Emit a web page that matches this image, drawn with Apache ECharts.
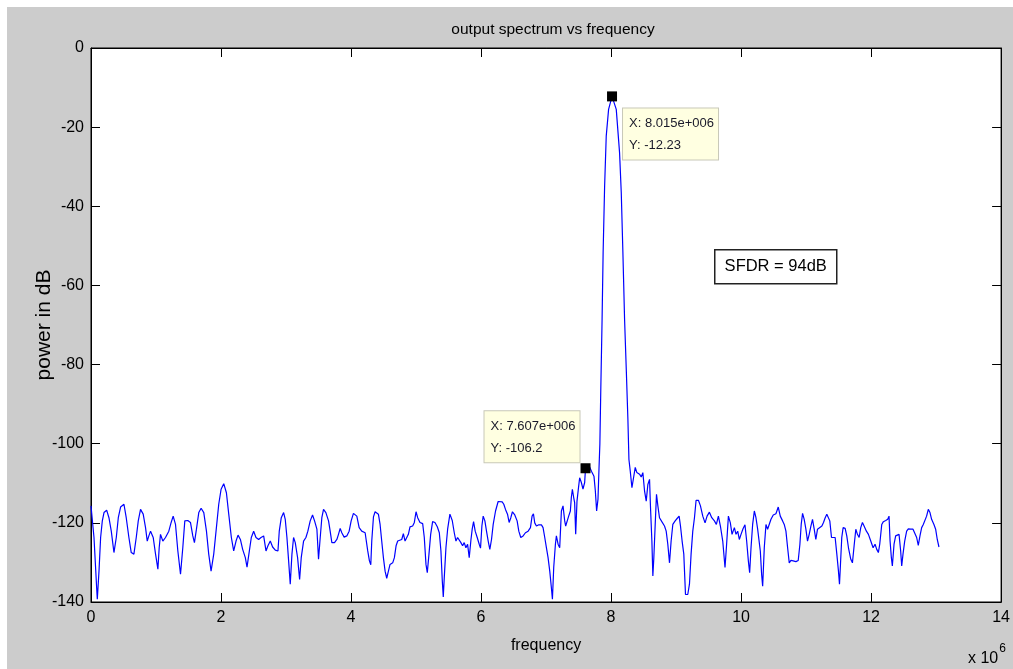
<!DOCTYPE html>
<html>
<head>
<meta charset="utf-8">
<script src="https://cdn.jsdelivr.net/npm/echarts@6/dist/echarts.min.js"></script>
<style>
html,body{margin:0;padding:0;background:#fff;}
#chart{width:1013px;height:669px;}
</style>
</head>
<body>
<div id="chart"></div>
<script>
// frequency in units of 1e6 Hz
var freqMHz = [
0.000,0.046,0.087,0.097,0.123,0.148,0.174,0.200,0.241,0.276,0.312,0.353,0.389,0.420,0.455,0.507,0.542,0.583,0.619,0.660,
0.696,0.727,0.762,0.803,0.839,0.865,0.890,0.916,0.957,0.993,1.029,1.049,1.069,1.105,1.146,1.197,1.233,1.264,1.300,1.336,
1.377,1.412,1.443,1.489,1.530,1.566,1.591,1.622,1.658,1.694,1.735,1.776,1.811,1.847,1.888,1.929,1.965,2.001,2.042,2.083,
2.119,2.159,2.195,2.231,2.262,2.298,2.333,2.374,2.400,2.436,2.466,2.502,2.538,2.579,2.615,2.656,2.692,2.722,2.758,2.794,
2.835,2.876,2.896,2.927,2.963,2.988,3.014,3.040,3.065,3.091,3.116,3.142,3.178,3.209,3.234,3.270,3.306,3.336,3.372,3.408,
3.439,3.475,3.500,3.526,3.551,3.577,3.613,3.654,3.679,3.705,3.746,3.782,3.807,3.833,3.858,3.894,3.935,3.971,4.002,4.037,
4.089,4.125,4.165,4.217,4.257,4.283,4.304,4.319,4.345,4.370,4.400,4.421,4.447,4.472,4.498,4.524,4.549,4.575,4.600,4.641,
4.667,4.693,4.718,4.744,4.780,4.805,4.831,4.856,4.882,4.907,4.948,4.974,5.000,5.025,5.061,5.102,5.127,5.153,5.173,5.199,
5.225,5.255,5.291,5.327,5.358,5.383,5.404,5.419,5.434,5.460,5.486,5.521,5.557,5.588,5.614,5.639,5.665,5.690,5.716,5.741,
5.767,5.793,5.818,5.844,5.864,5.885,5.910,5.941,5.972,5.992,6.013,6.033,6.059,6.084,6.110,6.135,6.161,6.187,6.223,6.263,
6.289,6.325,6.350,6.376,6.407,6.432,6.458,6.483,6.519,6.555,6.581,6.611,6.647,6.683,6.724,6.760,6.785,6.806,6.826,6.852,
6.888,6.929,6.954,6.980,7.006,7.031,7.057,7.082,7.098,7.118,7.144,7.159,7.185,7.210,7.236,7.261,7.287,7.302,7.328,7.348,
7.374,7.389,7.405,7.425,7.440,7.456,7.476,7.502,7.517,7.543,7.568,7.594,7.607,7.660,7.700,7.737,7.758,7.778,7.799,7.815,
7.828,7.843,7.862,7.878,7.901,7.926,7.962,8.015,8.080,8.131,8.157,8.182,8.208,8.234,8.259,8.275,8.295,8.321,8.346,8.372,
8.397,8.413,8.438,8.464,8.489,8.515,8.541,8.566,8.592,8.607,8.628,8.643,8.658,8.679,8.699,8.720,8.745,8.781,8.822,8.848,
8.873,8.899,8.924,8.950,8.986,9.016,9.047,9.068,9.093,9.119,9.145,9.180,9.206,9.231,9.257,9.283,9.308,9.344,9.375,9.411,
9.446,9.477,9.513,9.549,9.590,9.620,9.651,9.682,9.718,9.753,9.774,9.805,9.835,9.861,9.897,9.922,9.948,9.973,9.999,10.030,
10.060,10.086,10.112,10.132,10.153,10.178,10.204,10.229,10.255,10.296,10.316,10.332,10.357,10.383,10.408,10.434,10.460,10.495,10.536,10.572,
10.603,10.639,10.664,10.690,10.716,10.741,10.767,10.802,10.843,10.879,10.905,10.925,10.946,10.971,10.997,11.022,11.048,11.074,11.099,11.125,
11.150,11.176,11.202,11.243,11.268,11.294,11.319,11.345,11.365,11.391,11.417,11.447,11.473,11.498,11.514,11.529,11.549,11.570,11.601,11.626,
11.652,11.688,11.713,11.739,11.765,11.790,11.816,11.841,11.867,11.892,11.928,11.959,11.995,12.031,12.061,12.087,12.112,12.133,12.164,12.189,
12.225,12.256,12.276,12.292,12.312,12.327,12.353,12.378,12.404,12.430,12.455,12.471,12.491,12.517,12.547,12.573,12.609,12.645,12.675,12.701,
12.726,12.752,12.778,12.803,12.829,12.854,12.880,12.906,12.931,12.967,12.993,13.018,13.044
];
var powerDb = [
-115.7,-123.7,-136.4,-139.3,-132.2,-123.7,-119.5,-117.4,-116.8,-118.7,-122.1,-127.5,-123.7,-118.7,-116.0,-115.3,-118.7,-123.7,-127.5,-127.9,
-123.7,-119.5,-116.6,-117.8,-121.2,-124.6,-123.3,-122.1,-123.7,-127.9,-131.7,-126.3,-122.9,-124.6,-123.7,-122.1,-119.9,-118.3,-120.4,-127.1,
-133.0,-126.3,-119.5,-119.4,-119.9,-123.3,-125.0,-121.6,-117.4,-116.3,-117.4,-122.1,-127.9,-132.2,-127.9,-121.2,-115.3,-111.5,-110.1,-112.4,
-117.8,-123.7,-127.1,-124.6,-123.1,-124.2,-126.7,-128.8,-131.2,-127.1,-123.7,-122.1,-123.7,-124.2,-123.7,-123.3,-127.1,-125.8,-124.6,-126.1,
-126.9,-127.1,-122.1,-118.7,-117.4,-119.1,-123.7,-129.6,-135.5,-127.9,-123.7,-125.0,-128.8,-134.3,-128.8,-124.6,-123.7,-122.1,-119.5,-118.0,
-119.5,-121.6,-129.2,-123.7,-118.7,-116.6,-117.4,-119.5,-122.1,-125.0,-125.0,-124.2,-122.9,-121.4,-122.5,-123.6,-123.3,-122.1,-119.5,-117.6,
-118.3,-121.2,-122.1,-122.5,-127.1,-129.6,-130.6,-124.6,-118.5,-117.2,-117.3,-117.8,-120.4,-124.6,-128.8,-132.2,-134.0,-132.2,-130.5,-130.1,
-128.8,-125.8,-124.6,-125.0,-124.2,-122.7,-124.6,-124.8,-122.9,-121.0,-120.8,-119.9,-117.2,-118.7,-119.9,-120.2,-123.7,-130.5,-132.6,-127.9,
-122.9,-119.7,-119.9,-121.0,-122.5,-127.1,-134.7,-138.7,-133.9,-126.3,-121.6,-117.8,-119.4,-122.5,-124.6,-123.7,-123.2,-125.0,-125.8,-125.0,
-126.3,-125.4,-128.8,-124.4,-121.6,-119.7,-122.1,-123.7,-125.4,-126.4,-120.8,-118.3,-119.5,-122.1,-124.6,-126.7,-124.2,-120.4,-117.0,-114.6,
-114.3,-114.7,-115.3,-116.6,-117.8,-119.9,-118.7,-117.2,-118.0,-119.5,-122.1,-123.7,-123.3,-122.5,-122.1,-121.2,-118.3,-117.7,-120.0,-120.8,
-120.5,-120.5,-121.2,-123.7,-126.3,-128.8,-132.2,-136.4,-139.3,-131.3,-125.4,-123.3,-125.4,-126.3,-117.0,-115.7,-119.5,-120.8,-120.4,-118.3,
-117.0,-113.6,-111.5,-113.6,-114.9,-122.9,-114.5,-110.7,-108.6,-109.8,-111.5,-109.8,-106.2,-105.5,-107.0,-108.2,-111.9,-117.0,-114.0,-106.0,
-100.0,-85.4,-68.6,-51.7,-34.9,-22.2,-15.5,-12.23,-15.5,-26.5,-36.6,-51.7,-68.6,-81.2,-93.8,-104.0,-106.9,-111.1,-108.6,-106.0,
-107.3,-107.3,-107.7,-108.4,-107.3,-111.9,-114.5,-110.3,-109.0,-116.2,-124.6,-133.4,-128.8,-120.4,-112.8,-115.7,-118.7,-119.7,-120.8,-122.1,
-125.4,-130.1,-124.6,-120.4,-119.5,-118.9,-118.3,-120.8,-124.6,-127.9,-138.1,-138.1,-135.5,-127.9,-122.1,-118.7,-114.3,-114.3,-115.7,-118.3,
-120.0,-118.3,-117.3,-118.7,-119.5,-120.4,-118.3,-120.8,-124.6,-131.3,-126.3,-118.3,-120.0,-122.9,-121.2,-122.9,-122.1,-124.2,-122.9,-121.5,
-120.5,-124.6,-129.6,-132.6,-126.3,-120.4,-117.0,-118.7,-121.6,-127.1,-133.0,-136.0,-126.3,-120.4,-121.6,-122.1,-119.1,-118.0,-117.7,-116.0,
-118.3,-119.5,-120.4,-122.1,-126.3,-130.1,-129.5,-129.6,-129.8,-129.5,-125.4,-120.4,-117.6,-119.1,-121.6,-124.6,-122.9,-120.8,-119.1,-121.6,
-124.2,-121.6,-121.2,-120.8,-119.9,-118.7,-117.8,-118.0,-119.5,-123.7,-124.2,-123.7,-127.9,-132.2,-135.5,-130.5,-123.7,-121.2,-121.4,-123.3,
-126.3,-129.2,-130.1,-125.8,-121.6,-122.9,-123.7,-121.2,-119.9,-120.8,-122.1,-122.9,-124.6,-126.3,-125.4,-126.7,-127.5,-125.4,-120.4,-119.7,
-119.4,-119.1,-118.3,-124.6,-128.8,-130.9,-125.4,-123.3,-122.9,-122.9,-127.1,-130.9,-127.9,-124.6,-122.1,-121.5,-121.6,-121.6,-121.4,-123.7,
-125.7,-123.3,-121.2,-120.4,-119.9,-118.3,-116.6,-117.4,-119.1,-120.4,-121.6,-124.2,-126.1
];
// data tips
var tipX = [8.015, 7.607];
var tipY = [-12.23, -106.2];
var tipXText = ['8.015e+006', '7.607e+006'];
var tipYText = ['-12.23', '-106.2'];
var annotationText = 'SFDR = 94dB';

var FONT = '"Liberation Sans", Arial, sans-serif';

var seriesData = freqMHz.map(function (f, i) { return [f, powerDb[i]]; });

var chart = echarts.init(document.getElementById('chart'), null, {renderer: 'canvas'});

function axisCommon(showLabel, margin) {
  return {
    axisLine: {show: true, onZero: false, lineStyle: {color: '#000', width: 1}},
    axisTick: {show: true, inside: true, length: 9, lineStyle: {color: '#000', width: 1}},
    axisLabel: {show: showLabel, color: '#000', fontSize: 16, fontFamily: FONT, margin: margin},
    splitLine: {show: false}
  };
}

var option = {
  backgroundColor: '#ffffff',
  animation: false,
  title: {
    text: 'output spectrum vs frequency',
    left: 548, top: 17, textAlign: 'center',
    textStyle: {fontSize: 15.5, fontWeight: 'normal', color: '#000', fontFamily: FONT}
  },
  grid: {left: 91, top: 48, width: 915, height: 554, show: true, backgroundColor: '#fff', borderColor: '#000', borderWidth: 1},
  xAxis: [
    Object.assign({type: 'value', min: 0, max: 14, interval: 2, position: 'bottom',
      name: 'frequency', nameLocation: 'middle', nameGap: 36, nameMoveOverlap: false,
      nameTextStyle: {fontSize: 16, color: '#000', fontFamily: FONT}}, axisCommon(true, 8)),
    Object.assign({type: 'value', min: 0, max: 14, interval: 2, position: 'top'}, axisCommon(false, 8))
  ],
  yAxis: [
    Object.assign({type: 'value', min: -140, max: 0, interval: 20, position: 'left',
      name: 'power in dB', nameLocation: 'middle', nameGap: 36, nameRotate: 90, nameMoveOverlap: false,
      nameTextStyle: {fontSize: 21, color: '#000', fontFamily: FONT}}, axisCommon(true, 7)),
    Object.assign({type: 'value', min: -140, max: 0, interval: 20, position: 'right'}, axisCommon(false, 7))
  ],
  series: [{
    type: 'line',
    xAxisIndex: 0, yAxisIndex: 0,
    data: seriesData,
    showSymbol: false,
    symbol: 'none',
    lineStyle: {color: '#0000ff', width: 1.2},
    markPoint: {
      symbol: 'rect',
      symbolSize: 10,
      itemStyle: {color: '#000'},
      data: [
        {coord: [tipX[0], tipY[0]],
         label: {show: true, position: [16, 17], align: 'left', verticalAlign: 'top',
           formatter: 'X: ' + tipXText[0] + '\nY: ' + tipYText[0]}},
        {coord: [tipX[1], tipY[1]],
         label: {show: true, position: [-96, -1], align: 'left', verticalAlign: 'bottom',
           formatter: 'X: ' + tipXText[1] + '\nY: ' + tipYText[1]}}
      ],
      label: {
        color: '#1a1a2a', fontSize: 13, fontFamily: FONT, lineHeight: 22,
        width: 84, overflow: 'none',
        backgroundColor: '#ffffe1', borderColor: '#c8c8b8', borderWidth: 1,
        padding: [4, 5, 3, 6]
      }
    }
  }],
  graphic: [
    {type: 'rect', left: 7, top: 7, z: -100, silent: true,
     shape: {width: 1006, height: 662}, style: {fill: '#cccccc'}},
    {type: 'group', left: 714, top: 249, children: [
      {type: 'rect', shape: {x: 0, y: 0, width: 122, height: 34}, style: {fill: '#fff', stroke: '#222', lineWidth: 1.5}},
      {type: 'text', x: 61, y: 17, style: {text: annotationText, fill: '#000', fontSize: 16.5, fontFamily: FONT, align: 'center', verticalAlign: 'middle'}}
    ]},
    {type: 'text', left: 968, top: 643, style: {
      text: '{b|x 10}{s|6}', rich: {
        b: {fontSize: 16, fontFamily: FONT, color: '#000', padding: [8, 0, 0, 0]},
        s: {fontSize: 12, fontFamily: FONT, color: '#000', verticalAlign: 'top', padding: [0, 0, 8, 1]}
      }}}
  ]
};
chart.setOption(option);
</script>
</body>
</html>
